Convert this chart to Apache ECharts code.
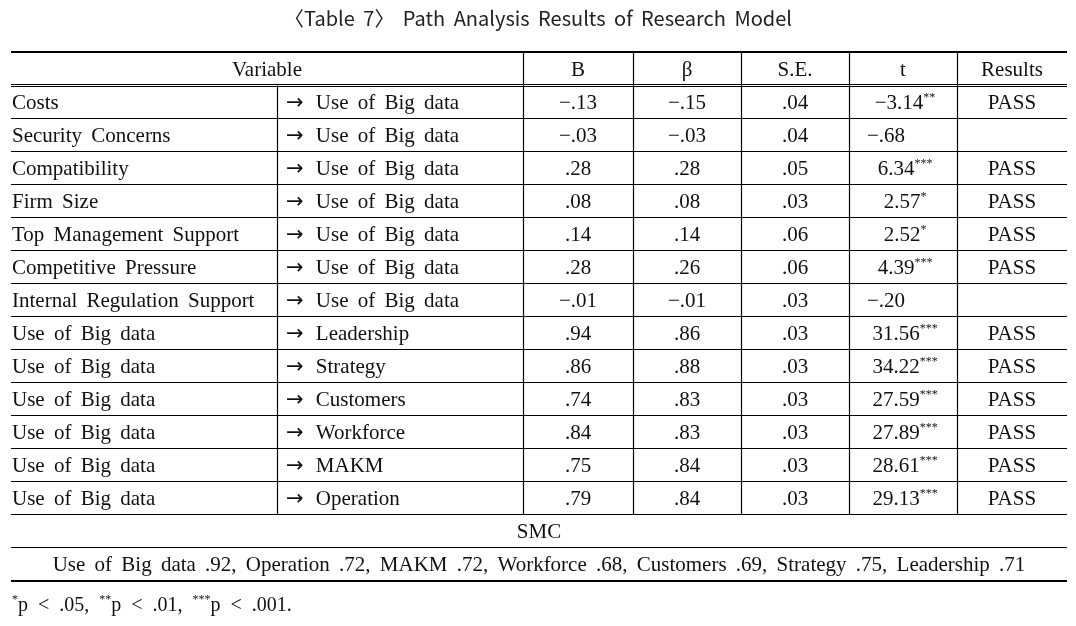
<!DOCTYPE html>
<html><head><meta charset="utf-8">
<script src="https://cdn.jsdelivr.net/npm/echarts@6/dist/echarts.min.js"></script>
<style>html,body{margin:0;padding:0;background:#fff}#c{width:1076px;height:626px}</style>
</head><body><div id="c"></div>
<script>
// ---- data ----
const titleText = '〈Table 7〉 Path Analysis Results of Research Model';
const headers = ['Variable', 'B', 'β', 'S.E.', 't', 'Results'];
const fromVars = ['Costs', 'Security Concerns', 'Compatibility', 'Firm Size', 'Top Management Support',
  'Competitive Pressure', 'Internal Regulation Support', 'Use of Big data', 'Use of Big data',
  'Use of Big data', 'Use of Big data', 'Use of Big data', 'Use of Big data'];
const toVars = ['Use of Big data', 'Use of Big data', 'Use of Big data', 'Use of Big data', 'Use of Big data',
  'Use of Big data', 'Use of Big data', 'Leadership', 'Strategy', 'Customers', 'Workforce', 'MAKM', 'Operation'];
const bValues = [-0.13, -0.03, 0.28, 0.08, 0.14, 0.28, -0.01, 0.94, 0.86, 0.74, 0.84, 0.75, 0.79];
const betaValues = [-0.15, -0.03, 0.28, 0.08, 0.14, 0.26, -0.01, 0.86, 0.88, 0.83, 0.83, 0.84, 0.84];
const seValues = [0.04, 0.04, 0.05, 0.03, 0.06, 0.06, 0.03, 0.03, 0.03, 0.03, 0.03, 0.03, 0.03];
const tValues = [-3.14, -0.68, 6.34, 2.57, 2.52, 4.39, -0.20, 31.56, 34.22, 27.59, 27.89, 28.61, 29.13];
const sigMarks = ['**', '', '***', '*', '*', '***', '', '***', '***', '***', '***', '***', '***'];
const results = ['PASS', '', 'PASS', 'PASS', 'PASS', 'PASS', '', 'PASS', 'PASS', 'PASS', 'PASS', 'PASS', 'PASS'];
const smcTitle = 'SMC';
const smcNames = ['Use of Big data', 'Operation', 'MAKM', 'Workforce', 'Customers', 'Strategy', 'Leadership'];
const smcValues = [0.92, 0.72, 0.72, 0.68, 0.69, 0.75, 0.71];

// ---- layout (positions / styles) ----
const COLS = [11, 277, 523, 633, 741, 849, 957, 1067];
const SERIF = '"Liberation Serif", "Times New Roman", serif';
const SANS = '"Noto Sans CJK KR", "Noto Sans", sans-serif';
const FS = 21;
const INK = '#111';
const TEXT_DY = 2;
const WORD_GAP = 4;

function fmt(v) {
  const s = Math.abs(v).toFixed(2).replace(/^0/, '');
  return (v < 0 ? '−' : '') + s;
}
// wide word spacing like the original typesetting: spaces stay real spaces, padded
function spaced(str) {
  return str.split(' ').map(w => '{t|' + w + '}').join('{sp| }');
}

const rowKeys = ['header'].concat(fromVars.map((_, i) => 'r' + i), ['smc', 'smcv']);

const baseRich = {
  t: { fontFamily: SERIF, fontSize: FS, fill: INK },
  sp: { fontFamily: SERIF, fontSize: FS, fill: INK, padding: [0, WORD_GAP, 0, 0] },
  a: { fontFamily: '"DejaVu Sans", sans-serif', fontSize: 21, fill: INK, padding: [0, 3, 0, 0] },
  n: { fontFamily: SERIF, fontSize: FS, fill: INK, lineHeight: 24 },
  s: { fontFamily: SERIF, fontSize: 12, fill: INK, verticalAlign: 'top', lineHeight: 12 }
};

function txt(text, x, y, align, extra) {
  return {
    type: 'text',
    style: Object.assign({
      text: text, x: x, y: y + TEXT_DY, align: align || 'center', verticalAlign: 'middle',
      fontFamily: SERIF, fontSize: FS, fill: INK, rich: baseRich
    }, extra || {})
  };
}
function hline(x1, x2, y, w) {
  return { type: 'line', shape: { x1: x1, y1: y, x2: x2, y2: y }, style: { stroke: '#000', lineWidth: w || 1 } };
}
function vline(x, y1, y2) {
  return { type: 'line', shape: { x1: x, y1: y1, x2: x, y2: y2 }, style: { stroke: '#000', lineWidth: 1.2 } };
}

function renderItem(params, api) {
  const i = api.value(1);
  const c = api.coord([0, i]);
  const h = api.size([0, 1])[1];
  const yc = c[1];
  const y0 = Math.round(yc - h / 2) + 0.5;
  const y1 = Math.round(yc + h / 2) + 0.5;
  const X = (v) => api.coord([v, i])[0];
  const L = X(COLS[0]), R = X(COLS[COLS.length - 1]);
  const mid = (a, b) => (X(COLS[a]) + X(COLS[b])) / 2;
  const kids = [];
  const key = rowKeys[i];
  if (key === 'header') {
    kids.push(hline(L, R, y0 - 0.5, 2));
    for (let k = 2; k <= 6; k++) kids.push(vline(Math.round(X(COLS[k])) + 0.5, y0, y1));
    kids.push(txt(headers[0], mid(0, 2), yc));
    for (let k = 1; k < headers.length; k++) kids.push(txt(headers[k], mid(k + 1, k + 2), yc));
  } else if (key === 'smc') {
    kids.push(hline(L, R, y0));
    kids.push(txt(smcTitle, (L + R) / 2, yc));
  } else if (key === 'smcv') {
    kids.push(hline(L, R, y0));
    kids.push(hline(L, R, y1 + 0.5, 2));
    const s = smcNames.map((n, k) => n + ' ' + fmt(smcValues[k])).join(', ');
    kids.push(txt(spaced(s), (L + R) / 2, yc));
  } else {
    const r = i - 1;
    if (r === 0) {
      kids.push(hline(L, R, y0 - 1));
      kids.push(hline(L, R, y0 + 1));
    } else {
      kids.push(hline(L, R, y0));
    }
    for (let k = 1; k <= 6; k++) kids.push(vline(Math.round(X(COLS[k])) + 0.5, y0, y1));
    kids.push(txt(spaced(fromVars[r]), X(COLS[0]) + 1, yc, 'left'));
    kids.push(txt('{a|→}{sp| }' + spaced(toVars[r]), X(COLS[1]) + 9, yc, 'left'));
    kids.push(txt(fmt(bValues[r]), mid(2, 3), yc));
    kids.push(txt(fmt(betaValues[r]), mid(3, 4), yc));
    kids.push(txt(fmt(seValues[r]), mid(4, 5), yc));
    const tv = fmt(tValues[r]);
    if (sigMarks[r]) {
      kids.push(txt('{n|' + tv + '}{s|' + sigMarks[r] + '}', mid(5, 6) + 2, yc, 'center'));
    } else {
      kids.push(txt(tv, mid(5, 6) - 17, yc));
    }
    if (results[r]) kids.push(txt(results[r], mid(6, 7), yc));
  }
  return { type: 'group', children: kids };
}

const chart = echarts.init(document.getElementById('c'), null, { renderer: 'canvas' });
chart.setOption({
  backgroundColor: '#fff',
  animation: false,
  title: {
    text: titleText.split(' ').map(w => '{t|' + w + '}').join('{sp| }'), left: 'center', top: 3,
    textStyle: {
      fontFamily: SANS, fontSize: 20, fontWeight: 'normal', color: '#222',
      rich: {
        t: { fontFamily: SANS, fontSize: 20, color: '#222' },
        sp: { fontFamily: SANS, fontSize: 20, color: '#222', padding: [0, 4, 0, 0] }
      }
    }
  },
  grid: { left: 0, right: 0, top: 52, bottom: 46 },
  xAxis: { type: 'value', min: 0, max: 1076, show: false },
  yAxis: { type: 'category', data: rowKeys, inverse: true, show: false },
  series: [{
    type: 'custom',
    renderItem: renderItem,
    encode: { x: 0, y: 1 },
    data: rowKeys.map((k, i) => [0, i]),
    silent: true
  }],
  graphic: [{
    type: 'text', left: 12, top: 594,
    style: {
      text: '{s|*}{n|p  <  .05,  }{s|**}{n|p  <  .01,  }{s|***}{n|p  <  .001.}',
      rich: {
        n: { fontFamily: SERIF, fontSize: 20, fill: INK, lineHeight: 24 },
        s: { fontFamily: SERIF, fontSize: 12, fill: INK, verticalAlign: 'top', lineHeight: 12 }
      }
    }
  }]
});
</script></body></html>
